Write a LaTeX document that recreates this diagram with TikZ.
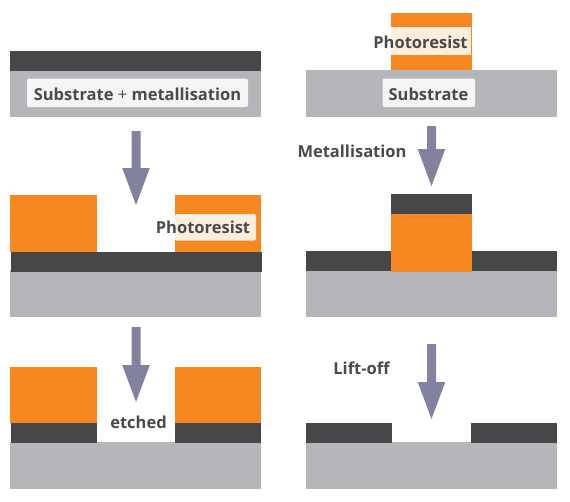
\documentclass[tikz,border=0pt]{standalone}
\usepackage{fontspec}
\setmainfont{Open Sans}
\definecolor{metal}{HTML}{474749}
\definecolor{subst}{HTML}{B5B6BA}
\definecolor{resist}{HTML}{F78720}
\definecolor{arrowc}{HTML}{82829F}
\definecolor{txt}{HTML}{4A4A4C}
\definecolor{graybox}{HTML}{F5F5F5}
\definecolor{palebox}{HTML}{FDEEDD}
\tikzset{
  lbl/.style={text=txt,font=\bfseries\fontsize{16.5}{19}\selectfont,inner sep=0pt,anchor=base},
  flow/.style={fill=arrowc,draw=none},
  boxg/.style={fill=graybox,draw=none,rounded corners=2pt},
  boxp/.style={fill=palebox,draw=none,rounded corners=2pt},
}
\newcommand{\downarrowshape}[3]{%
  \fill[flow] (#1-4.5,#2) -- (#1+4.5,#2) -- (#1+4.5,#3-37) -- (#1+13.8,#3-37) -- (#1,#3) -- (#1-13.8,#3-37) -- (#1-4.5,#3-37) -- cycle;}
\begin{document}
\begin{tikzpicture}[x=1pt,y=-1pt]
\useasboundingbox (0,0) rectangle (570,501);
% --- left column, panel 1
\fill[subst] (10,71) rectangle (261,117);
\fill[metal] (10,51) rectangle (261,71);
\fill[boxg] (27,78.5) rectangle (248,107);
\node[lbl] (t1) at (137.5,100) {Substrate {\mdseries +} metallisation};
\downarrowshape{136}{131}{205}
% panel 2
\fill[subst] (10,270) rectangle (261,317);
\fill[metal] (11,252) rectangle (262,272);
\fill[resist] (10,195) rectangle (97,252);
\fill[resist] (175,195) rectangle (261,252);
\fill[boxp] (175,214) rectangle (256,240.7);
\node[lbl] (t2) at (203,233) {Photoresist};
\downarrowshape{136}{327}{402}
% panel 3
\fill[subst] (10,442) rectangle (261,489);
\fill[metal] (11,423) rectangle (97,443);
\fill[metal] (175,423) rectangle (261,443);
\fill[resist] (10,367) rectangle (97,423);
\fill[resist] (175,367) rectangle (261,423);
\node[lbl] (t3) at (138.5,428) {etched};
% --- right column, panel 1
\fill[resist] (391,13) rectangle (472,71);
\fill[subst] (306,70) rectangle (557,117);
\fill[palebox] (391,26.5) rectangle (471,54.5);
\node[lbl] (t4) at (420.5,48) {Photoresist};
\fill[boxg] (382.5,78.5) rectangle (475,107);
\node[lbl] (t5) at (428.5,100) {Substrate};
\downarrowshape{431.5}{126}{186}
\node[lbl] (t6) at (352,157) {Metallisation};
% panel 2
\fill[subst] (306,271) rectangle (557,317);
\fill[metal] (306,251) rectangle (391,271);
\fill[metal] (472,251) rectangle (557,271);
\fill[resist] (391,214) rectangle (472,272);
\fill[metal] (391,194) rectangle (472,214);
\downarrowshape{431.5}{344}{419}
\node[lbl] (t7) at (361.5,374) {Lift-off};
% panel 3
\fill[subst] (306,442) rectangle (557,489);
\fill[metal] (306,423) rectangle (392,443);
\fill[metal] (471,423) rectangle (557,443);
\end{tikzpicture}
\end{document}
